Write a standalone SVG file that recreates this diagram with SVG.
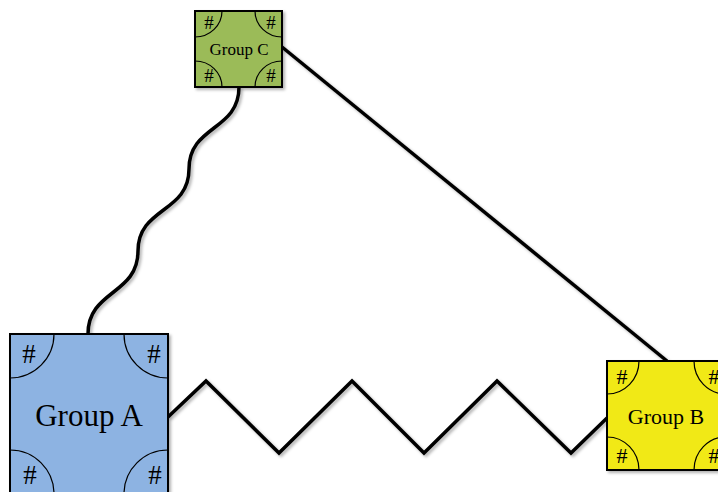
<svg xmlns="http://www.w3.org/2000/svg" width="718" height="492" viewBox="0 0 718 492">
<defs>
<filter id="sh" x="-20%" y="-20%" width="140%" height="140%">
<feDropShadow dx="2" dy="2" stdDeviation="1.5" flood-color="#000" flood-opacity="0.3"/>
</filter>
</defs>
<style>
.conn{fill:none;stroke:#000;stroke-width:3.5;stroke-linejoin:miter;filter:url(#sh)}
.box{stroke:#000;stroke-width:2;filter:url(#sh)}
.arc{fill:none;stroke:#000;stroke-width:1.2}
text{font-family:"Liberation Serif","Times New Roman",serif;fill:#000;text-anchor:middle}
</style>
<rect width="718" height="492" fill="#fff"/>
<g id="connectors">
<path class="conn" d="M239,87 C239,131 189,125 189,169 S138,207 138,251 S88,290 88,334"/>
<path class="conn" d="M168,417 L206,381 L279,453 L352,381 L424,453 L497,381 L571,453 L607,418"/>
<path class="conn" d="M282,47 L667,361"/>
</g>
<g id="groupA">
<rect class="box" x="10" y="334" width="158" height="162" fill="#8db3e2"/>
<path class="arc" d="M10,378 A44,44 0 0 0 54,334 M124,334 A44,44 0 0 0 168,378 M10,450 A44,44 0 0 1 54,494 M124,494 A44,44 0 0 1 168,450"/>
<text x="89" y="426" font-size="31">Group A</text>
<g font-size="27">
<text x="29" y="363">#</text>
<text x="154" y="363">#</text>
<text x="30" y="484">#</text>
<text x="155" y="484">#</text>
</g>
</g>
<g id="groupB">
<rect class="box" x="607" y="361" width="119" height="109" fill="#f1e919"/>
<path class="arc" d="M607,394 A32,33 0 0 0 639,361 M694,361 A32,33 0 0 0 726,394 M607,437 A32,33 0 0 1 639,470 M694,470 A32,33 0 0 1 726,437"/>
<text x="666" y="424" font-size="22">Group B</text>
<g font-size="22">
<text x="622" y="384">#</text>
<text x="714" y="384">#</text>
<text x="622" y="463">#</text>
<text x="714" y="463">#</text>
</g>
</g>
<g id="groupC">
<rect class="box" x="195" y="11" width="87" height="76" fill="#9bbb59"/>
<path class="arc" d="M195,37 A27,26 0 0 0 222,11 M255,11 A27,26 0 0 0 282,37 M195,61 A27,26 0 0 1 222,87 M255,87 A27,26 0 0 1 282,61"/>
<text x="239" y="55" font-size="17">Group C</text>
<g font-size="19">
<text x="209" y="29">#</text>
<text x="271" y="29">#</text>
<text x="209" y="82">#</text>
<text x="271" y="82">#</text>
</g>
</g>
</svg>
